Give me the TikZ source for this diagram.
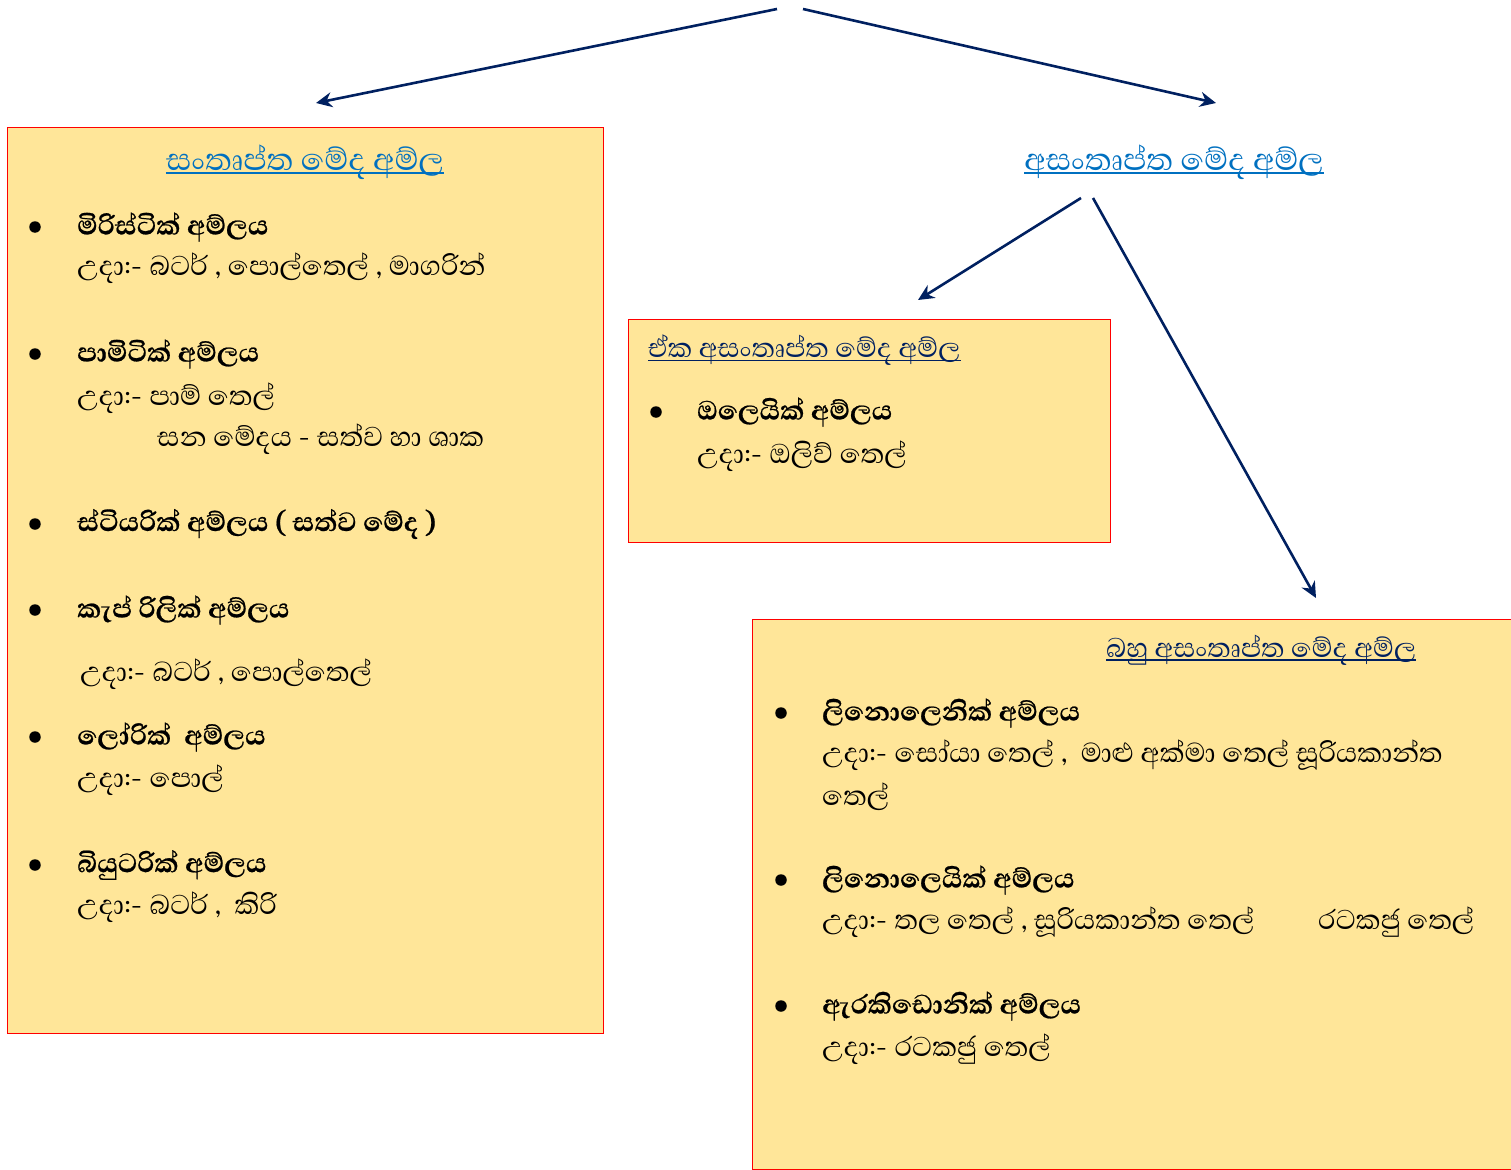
\documentclass[tikz,border=0pt]{standalone}
\usepackage{fontspec}
\usetikzlibrary{arrows.meta}
\newfontfamily\sinfont[Script=Sinhala, BoldFeatures={FakeBold=0.6}]{Abhaya Libre}
\definecolor{boxfill}{HTML}{FFE699}
\definecolor{navy}{HTML}{002060}
\definecolor{tblue}{HTML}{0070C0}
\tikzset{
  boxrect/.style={draw=red, fill=boxfill, line width=1.2pt, anchor=north west, inner sep=0},
  arr/.style={navy, line width=2.6pt, -{Stealth[length=16pt,width=15pt]}},
  txt/.style={anchor=west, inner sep=0, font=\sinfont\fontsize{35}{40}\selectfont},
  btxt/.style={anchor=west, inner sep=0, font=\sinfont\bfseries\fontsize{34}{40}\selectfont},
  ttl/.style={inner sep=0, font=\sinfont\fontsize{39.5}{44}\selectfont},
  sttl/.style={inner sep=0, anchor=west, font=\sinfont\fontsize{34.5}{40}\selectfont},
  bul/.style={circle, fill=black, inner sep=0, minimum size=11.5pt}
}
\begin{document}
\begin{tikzpicture}[x=1pt,y=-1pt]
\useasboundingbox (0,0) rectangle (1511,1169);
% boxes
\node[boxrect, minimum width=596pt, minimum height=906pt] (lbox) at (7,127) {};
\node[boxrect, minimum width=482pt, minimum height=223pt] (mbox) at (628,319) {};
\node[boxrect, minimum width=762pt, minimum height=550pt] (rbox) at (752,619) {};
% arrows
\coordinate (t1) at (777,9);
\coordinate (t2) at (803,9);
\coordinate (e1) at (316,103);
\coordinate (e2) at (1216,103);
\coordinate (s3) at (1081,198);
\coordinate (s4) at (1093,198);
\coordinate (e3) at (918,300);
\coordinate (e4) at (1316,598);
\draw[arr] (t1) -- (e1);
\draw[arr] (t2) -- (e2);
\draw[arr] (s3) -- (e3);
\draw[arr] (s4) -- (e4);
% titles
\node[ttl, text=tblue] (ttlS) at (305,162) {සංතෘප්ත මේද අම්ල};
\node[ttl, text=tblue] (ttlU) at (1174,162) {අසංතෘප්ත මේද අම්ල};
\node[sttl, text=navy] (ttlM) at (648,350) {ඒක අසංතෘප්ත මේද අම්ල};
\node[sttl, text=navy] (ttlP) at (1106,650) {බහු අසංතෘප්ත මේද අම්ල};
\draw[tblue, line width=1.8pt] ([yshift=-3pt]ttlS.base west) -- ([yshift=-3pt]ttlS.base east);
\draw[tblue, line width=1.8pt] ([yshift=-3pt]ttlU.base west) -- ([yshift=-3pt]ttlU.base east);
\draw[navy, line width=1.8pt] ([yshift=-3pt]ttlM.base west) -- ([yshift=-3pt]ttlM.base east);
\draw[navy, line width=1.8pt] ([yshift=-3pt]ttlP.base west) -- ([yshift=-3pt]ttlP.base east);
% left box items
\node[bul] (b1) at (35,227) {};
\node[btxt] (l1) at (77,227) {මිරිස්ටික් අම්ලය};
\node[txt] (l1e) at (77,268) {උදා:- බටර් , පොල්තෙල් , මාගරින්};
\node[bul] (b2) at (35,354) {};
\node[btxt] (l2) at (77,354) {පාමිටික් අම්ලය};
\node[txt] (l2e) at (77,398) {උදා:- පාම් තෙල්};
\node[txt] (l2f) at (157,439) {සන මේදය - සත්ව හා ශාක};
\node[bul] (b3) at (35,524) {};
\node[btxt] (l3) at (77,524) {ස්ටියරික් අම්ලය ( සත්ව මේද )};
\node[bul] (b4) at (35,610) {};
\node[btxt] (l4) at (77,610) {කැප් රිලික් අම්ලය};
\node[txt] (l4e) at (80,674) {උදා:- බටර් , පොල්තෙල්};
\node[bul] (b5) at (35,737) {};
\node[btxt] (l5) at (77,737) {ලෝරික්~ අම්ලය};
\node[txt] (l5e) at (77,780) {උදා:- පොල්};
\node[bul] (b6) at (35,865) {};
\node[btxt] (l6) at (77,865) {බියුටරික් අම්ලය};
\node[txt] (l6e) at (77,907) {උදා:- බටර් ,~ කිරි};
% middle box
\node[bul] (m1) at (656,412) {};
\node[btxt] (m1t) at (697,412) {ඔලෙයික් අම්ලය};
\node[txt] (m1e) at (697,456) {උදා:- ඔලිව් තෙල්};
% right box
\node[bul] (r1) at (781,713) {};
\node[btxt] (r1t) at (822,713) {ලිනොලෙනික් අම්ලය};
\node[txt] (r1e) at (822,755) {උදා:- සෝයා තෙල් ,~ මාළු අක්මා තෙල් සූරියකාන්ත};
\node[txt] (r1f) at (822,797) {තෙල්};
\node[bul] (r2) at (781,880) {};
\node[btxt] (r2t) at (822,880) {ලිනොලෙයික් අම්ලය};
\node[txt] (r2e) at (822,922) {උදා:- තල තෙල් , සූරියකාන්ත තෙල්};
\node[txt] (r2f) at (1318,922) {රටකජු තෙල්};
\node[bul] (r3) at (781,1006) {};
\node[btxt] (r3t) at (822,1006) {ඇරකිඩොනික් අම්ලය};
\node[txt] (r3e) at (822,1049) {උදා:- රටකජු තෙල්};
\end{tikzpicture}
\end{document}
